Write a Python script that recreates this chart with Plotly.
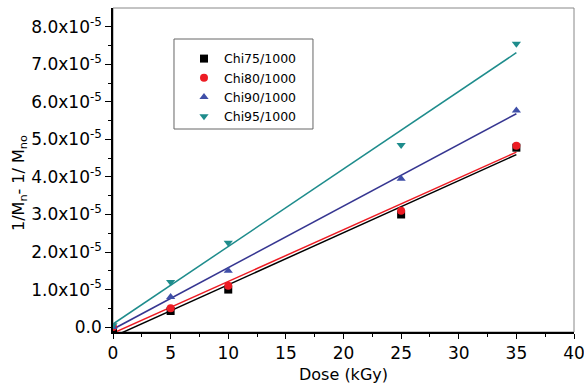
import numpy as np
import plotly.graph_objects as go

dose = [0, 5, 10, 25, 35]
chi75 = [-0.10e-5, 0.43e-5, 1.00e-5, 3.00e-5, 4.78e-5]
chi80 = [0.00e-5, 0.50e-5, 1.10e-5, 3.10e-5, 4.83e-5]
chi90 = [0.00e-5, 0.80e-5, 1.50e-5, 3.95e-5, 5.77e-5]
chi95 = [0.05e-5, 1.20e-5, 2.25e-5, 4.85e-5, 7.55e-5]
names = ["Chi75/1000", "Chi80/1000", "Chi90/1000", "Chi95/1000"]

y_tickvals = [0, 1e-5, 2e-5, 3e-5, 4e-5, 5e-5, 6e-5, 7e-5, 8e-5]
y_ticktext = ["0.0"] + [f"{v}.0x10<sup>-5</sup>" for v in range(1, 9)]
x_tickvals = [0, 5, 10, 15, 20, 25, 30, 35, 40]

series = [chi75, chi80, chi90, chi95]
marker_colors = ["#000000", "#ED1C24", "#3F4FA8", "#1E8C8C"]
line_colors = ["#000000", "#ED1C24", "#363691", "#1E8C8C"]
symbols = ["square", "circle", "triangle-up", "triangle-down"]

fig = go.Figure()
xfit = np.array([dose[0], dose[-1]], dtype=float)
for ys, lc in zip(series, line_colors):
    m, b = np.polyfit(dose, ys, 1)
    fig.add_trace(go.Scatter(x=xfit, y=m * xfit + b, mode="lines",
                             line=dict(color=lc, width=1.5), showlegend=False,
                             hoverinfo="skip"))
for ys, mc, sym, nm in zip(series, marker_colors, symbols, names):
    fig.add_trace(go.Scatter(x=dose, y=ys, mode="markers", name=nm,
                             marker=dict(color=mc, symbol=sym, size=8,
                                         line=dict(width=0))))

font = "DejaVu Sans"
fig.update_layout(
    width=584, height=391,
    margin=dict(l=113, r=10, t=8, b=59, autoexpand=False),
    plot_bgcolor="white", paper_bgcolor="white",
    font=dict(family=font, color="black", size=17),
    showlegend=True,
    legend=dict(x=0.154, y=0.889, xanchor="left", yanchor="top",
                borderwidth=0, bgcolor="rgba(0,0,0,0)",
                font=dict(family=font, size=12.5, color="black"),
                tracegroupgap=0, itemwidth=30),
    shapes=[
        dict(type="rect", xref="paper", yref="paper", x0=0, y0=0, x1=1, y1=1,
             line=dict(color="#888888", width=1), layer="below"),
        dict(type="rect", xref="paper", yref="paper", x0=0.1323, y0=0.6265,
             x1=0.4338, y1=0.9043, line=dict(color="#666666", width=1),
             fillcolor="white", layer="below"),
    ],
    annotations=[
        dict(text="1/M<sub>n</sub>- 1/ M<sub>no</sub>", textangle=-90,
             xref="paper", yref="paper", x=-0.2017, y=0.46,
             xanchor="center", yanchor="middle", showarrow=False,
             font=dict(family=font, size=16, color="black")),
        dict(text="Dose (kGy)", xref="paper", yref="paper", x=0.5, y=-0.1327,
             xanchor="center", yanchor="middle", showarrow=False,
             font=dict(family=font, size=16, color="black")),
    ],
)
fig.update_xaxes(range=[0, 40], tickvals=x_tickvals, ticks="outside", ticklen=5,
                 tickwidth=1, tickcolor="black", showline=True, linecolor="black",
                 linewidth=1.5, showgrid=False, zeroline=False, automargin=False,
                 ticklabeloverflow="allow",
                 tickfont=dict(family=font, size=17),
                 minor=dict(ticks="outside", ticklen=3, dtick=2.5, tickcolor="black"))
fig.update_yaxes(range=[-0.13e-5, 8.5e-5], tickvals=y_tickvals, ticktext=y_ticktext,
                 ticks="outside", ticklen=6, tickwidth=1, tickcolor="black",
                 showline=True, linecolor="black", linewidth=1.5, showgrid=False,
                 zeroline=False, automargin=False, tickfont=dict(family=font, size=17),
                 minor=dict(ticks="outside", ticklen=3,
                            tickvals=[i * 0.5e-5 for i in range(1, 17, 2)],
                            tickcolor="black"))

fig.write_html("out.html")
